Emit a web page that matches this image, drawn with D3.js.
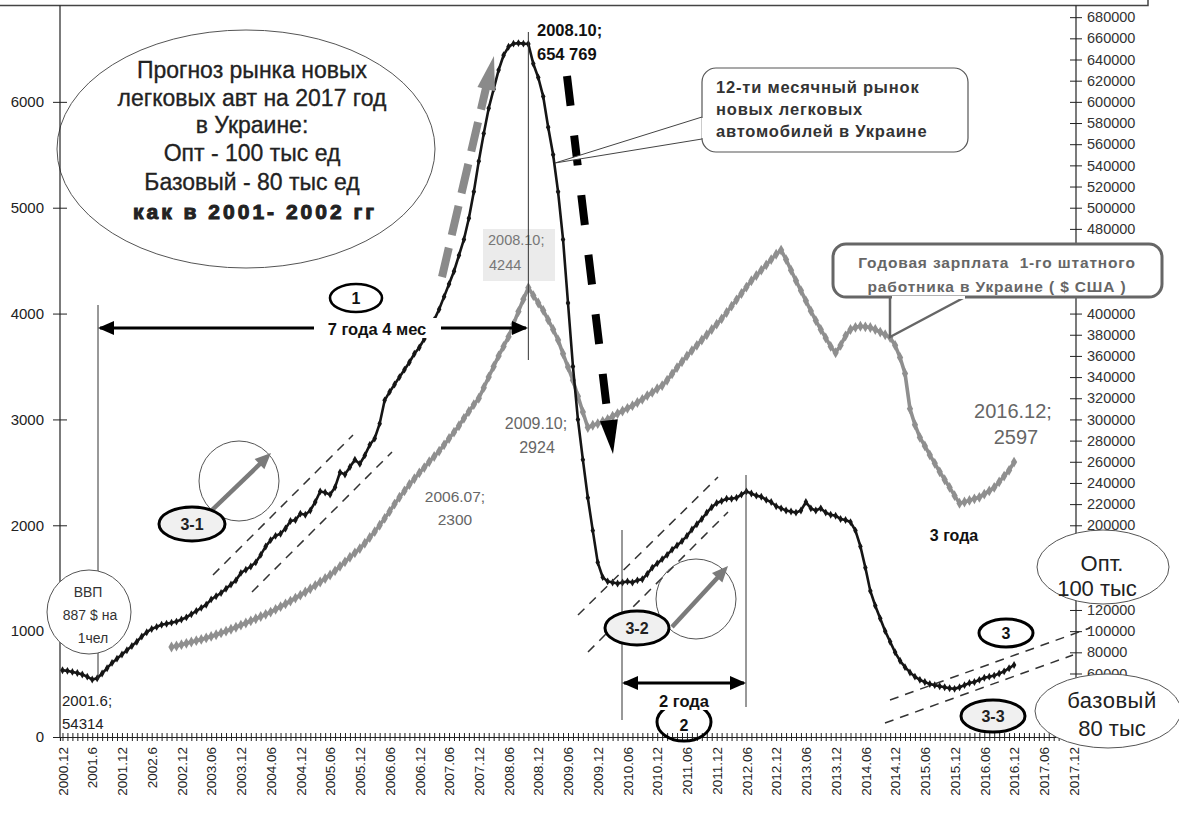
<!DOCTYPE html>
<html><head><meta charset="utf-8">
<script src="https://cdn.jsdelivr.net/npm/d3@7"></script>
<style>
body{margin:0;background:#fff;}
svg{display:block;font-family:"Liberation Sans",Arial,sans-serif;}
</style>
</head><body>
<svg id="c" width="1179" height="817"></svg>
<script>
// ---------------- DATA ----------------
// monthly categories 2000.12 .. 2017.12
const firstYear = 2000, firstMonth = 12, nMonths = 205;
const months = d3.range(nMonths).map(i => {
  const m = firstMonth - 1 + i;
  const y = firstYear + Math.floor(m / 12);
  const mm = (m % 12) + 1;
  return y + "." + (mm < 10 ? "0" + mm : mm);
});
const tickLabels = ["2000.12","2001.6","2001.12","2002.6","2002.12","2003.06","2003.12","2004.06","2004.12",
  "2005.06","2005.12","2006.06","2006.12","2007.06","2007.12","2008.06","2008.12","2009.06","2009.12",
  "2010.06","2010.12","2011.06","2011.12","2012.06","2012.12","2013.06","2013.12","2014.06","2014.12",
  "2015.06","2015.12","2016.06","2016.12","2017.06","2017.12"];
const leftTicks = [0,1000,2000,3000,4000,5000,6000];
// right-axis ticks that are not hidden by the text boxes
const rightTicks = [60000,80000,100000,120000,200000,220000,240000,260000,280000,300000,320000,340000,
  360000,380000,400000,480000,500000,520000,540000,560000,580000,600000,620000,640000,660000,680000];

// 12-month rolling market of new passenger cars (units), 2000.12 .. 2016.12
const carStart = "2000.12";
const carMarket = [
  63000,62500,61500,60500,59000,57000,54314,55500,60000,65000,70000,74000,
  78000,82000,86000,90000,95000,99000,102000,104000,106000,107000,108000,109000,
  111000,113000,116000,119000,122000,125000,130000,133000,136000,140000,144000,148000,
  155000,158000,161000,165000,172000,180000,186000,190000,192000,197000,204000,205000,
  211000,210000,214000,222000,232000,231000,229000,236000,250000,248000,255000,262000,
  258000,266000,276000,282000,296000,318000,326000,333000,340000,347000,354000,362000,
  368000,376000,384000,394000,404000,416000,428000,440000,455000,470000,490000,515000,
  544000,570000,594000,612000,630000,644000,652000,655000,655500,655000,654769,636000,
  623000,605000,576000,550000,515000,470000,410000,350000,300000,262000,226000,195000,
  165000,151000,147000,146000,145000,146000,147000,146000,148000,149000,154000,160000,
  164000,168000,172000,177000,181000,185000,190000,196000,201000,206000,212000,217000,
  221000,223000,225000,225000,226000,229000,232000,230000,228000,227000,224000,222000,
  218000,216000,214000,213000,212000,214000,222000,216000,214000,216000,212000,210000,
  209000,206000,205000,203000,195000,180000,160000,138000,124000,112000,100000,90000,
  80000,72000,66000,61000,57000,54000,52000,50000,49000,48000,47000,46000,
  45500,47000,49000,51000,52000,54000,56000,57000,58000,60000,62000,65000,
  68000
];

// Annual salary of one full-time employee in Ukraine (USD), 2002.10 .. 2016.12
const salaryStart = "2002.10";
const salary = [
  850,860,872,885,897,910,922,936,950,966,983,1000,1018,1037,
  1057,1077,1097,1117,1138,1159,1180,1205,1231,1257,1284,1312,
  1340,1370,1400,1432,1464,1497,1530,1570,1612,1655,1698,1740,
  1780,1830,1885,1940,2000,2065,2130,2200,2265,2325,2385,2440,
  2495,2545,2600,2650,2700,2760,2820,2880,2940,3010,3075,3140,
  3200,3300,3400,3500,3600,3690,3780,3900,4020,4135,4244,4170,
  4100,4030,3940,3850,3750,3620,3495,3370,3220,3070,2924,2945,
  2960,2980,3000,3030,3055,3080,3105,3130,3160,3190,3225,3255,
  3290,3320,3370,3430,3490,3545,3600,3650,3700,3750,3800,3850,
  3900,3950,4010,4070,4130,4190,4250,4310,4360,4410,4460,4510,
  4560,4600,4510,4410,4310,4217,4120,4025,3934,3850,3770,3690,
  3630,3700,3790,3850,3870,3880,3875,3868,3850,3825,3800,3774,
  3700,3585,3434,3100,2950,2830,2750,2665,2585,2505,2430,2358,
  2280,2208,2220,2235,2250,2264,2295,2325,2358,2410,2465,2519,
  2597
];

// ---------------- SCALES ----------------
const svg = d3.select("#c");
const x = d3.scalePoint().domain(months).range([60, 1076]).padding(0.5);
const yL = d3.scaleLinear().domain([0, 7000]).range([737, -4]);
const yR = d3.scaleLinear().domain([0, 700000]).range([737, -4]);
const FONT = "'Liberation Sans', Arial, sans-serif";

const carData = carMarket.map((v, i) => ({m: months[months.indexOf(carStart) + i], v}));
const salData = salary.map((v, i) => ({m: months[months.indexOf(salaryStart) + i], v}));

// top frame (cropped text box)
svg.append("path").attr("d", "M0,5.5H1148V-2").attr("fill", "none").attr("stroke", "#444").attr("stroke-width", 1.5);

// big forecast ellipse (behind axes)
const big = svg.append("g");
big.append("ellipse").attr("cx", 246).attr("cy", 149).attr("rx", 189).attr("ry", 119)
  .attr("fill", "#fff").attr("stroke", "#555").attr("stroke-width", 1);
const bigLines = ["Прогноз рынка новых", "легковых авт на 2017 год", "в Украине:", "Опт - 100 тыс ед", "Базовый - 80 тыс ед"];
const bigY = [78, 106, 133, 161, 190];
bigLines.forEach((t, i) => big.append("text").attr("x", 252).attr("y", bigY[i]).attr("text-anchor", "middle")
  .attr("font-size", 23).attr("fill", "#222").attr("stroke", "#222").attr("stroke-width", 0.3).text(t));
big.append("text").attr("x", 255).attr("y", 219).attr("text-anchor", "middle").attr("font-size", 21)
  .attr("font-weight", "bold").attr("letter-spacing", 3).attr("fill", "#222").attr("stroke", "#222")
  .attr("stroke-width", 1).text("как в 2001- 2002 гг");

// ---------------- AXES ----------------
const gx = svg.append("g").attr("transform", "translate(0,737)")
  .call(d3.axisBottom(x).tickValues(months).tickSizeOuter(0).tickSize(4).tickFormat(""));
gx.selectAll(".tick line").attr("y1", -4).attr("y2", 4).attr("stroke", "#222").attr("stroke-width", 1);
gx.select(".domain").attr("stroke", "#222").attr("stroke-width", 1.2);

const labelMonths = tickLabels.map((_, i) => months[i * 6]);
const gxl = svg.append("g").attr("transform", "translate(0,737)")
  .call(d3.axisBottom(x).tickValues(labelMonths).tickSize(0).tickFormat((d, i) => tickLabels[i]));
gxl.select(".domain").remove();
gxl.selectAll("text").attr("transform", "rotate(-90)").attr("x", -10).attr("y", 0).attr("dy", "0.35em")
  .attr("text-anchor", "end").attr("font-size", 13.5).attr("fill", "#222").attr("font-family", FONT);

const gl = svg.append("g").attr("transform", "translate(60,0)")
  .call(d3.axisLeft(yL).tickValues(leftTicks).tickFormat(d3.format("d")).tickSize(7).tickSizeOuter(0).tickPadding(9));
gl.selectAll(".tick line").attr("x1", 7).attr("stroke", "#222");
gl.select(".domain").attr("d", "M0,737V5.5").attr("stroke", "#222").attr("stroke-width", 1.2);
gl.selectAll("text").attr("font-size", 15).attr("fill", "#222").attr("font-family", FONT);

const gr = svg.append("g").attr("transform", "translate(1076,0)")
  .call(d3.axisRight(yR).tickValues(rightTicks).tickFormat(d3.format("d")).tickSize(6).tickSizeOuter(0).tickPadding(5));
gr.selectAll(".tick line").attr("x1", -6).attr("stroke", "#222");
gr.select(".domain").attr("d", "M0,737V5.5").attr("stroke", "#222").attr("stroke-width", 1.2);
gr.selectAll("text").attr("font-size", 14.5).attr("fill", "#333").attr("font-family", FONT);

// ---------------- SERIES ----------------
const lineSal = d3.line().x(d => x(d.m)).y(d => yL(d.v));
svg.append("path").datum(salData).attr("d", lineSal).attr("fill", "none").attr("stroke", "#8f8f8f").attr("stroke-width", 3.6);
svg.append("g").selectAll("path").data(salData).join("path")
  .attr("transform", d => `translate(${x(d.m)},${yL(d.v)})`)
  .attr("d", d3.symbol(d3.symbolDiamond, 34)).attr("fill", "#8f8f8f");

const lineCar = d3.line().x(d => x(d.m)).y(d => yR(d.v));
svg.append("path").datum(carData).attr("d", lineCar).attr("fill", "none").attr("stroke", "#151515").attr("stroke-width", 2.6);
svg.append("g").selectAll("path").data(carData).join("path")
  .attr("transform", d => `translate(${x(d.m)},${yR(d.v)})`)
  .attr("d", d3.symbol(d3.symbolDiamond, 18)).attr("fill", "#151515");

// ---------------- ANNOTATIONS ----------------
const A = svg.append("g");
function head(g, tip, from, len, hw, color) {
  const dx = tip[0] - from[0], dy = tip[1] - from[1], L = Math.hypot(dx, dy);
  const ux = dx / L, uy = dy / L, bx = tip[0] - ux * len, by = tip[1] - uy * len;
  g.append("path").attr("d", `M${tip[0]},${tip[1]}L${bx - uy * hw},${by + ux * hw}L${bx + uy * hw},${by - ux * hw}Z`).attr("fill", color);
}
function line(g, x1, y1, x2, y2, color, w, dash) {
  const l = g.append("line").attr("x1", x1).attr("y1", y1).attr("x2", x2).attr("y2", y2)
    .attr("stroke", color).attr("stroke-width", w);
  if (dash) l.attr("stroke-dasharray", dash);
  return l;
}
function ell(g, cx, cy, rx, ry, fill, stroke, w) {
  return g.append("ellipse").attr("cx", cx).attr("cy", cy).attr("rx", rx).attr("ry", ry)
    .attr("fill", fill).attr("stroke", stroke).attr("stroke-width", w);
}
function txt(g, x0, y0, t, size, opts = {}) {
  const e = g.append("text").attr("x", x0).attr("y", y0).attr("font-size", size)
    .attr("text-anchor", opts.anchor || "middle").attr("fill", opts.fill || "#222")
    .attr("font-weight", opts.bold ? "bold" : "normal").style("white-space", "pre").text(t);
  if (opts.ls) e.attr("letter-spacing", opts.ls);
  return e;
}

// peak vertical line (2008.10)
const xPeak = x("2008.10");
line(A, xPeak, 32, xPeak, 360, "#333", 1);
// 2001.6 vertical line
line(A, 98, 305, 98, 680, "#333", 1);

// gray light box label at salary peak
A.append("rect").attr("x", 483).attr("y", 229).attr("width", 72).attr("height", 52).attr("fill", "#ebebeb");
txt(A, 488, 245, "2008.10;", 14.5, {anchor: "start", fill: "#777"});
txt(A, 489, 270, "4244", 14.5, {anchor: "start", fill: "#777"});
line(A, xPeak, 229, xPeak, 281, "#333", 1);

// car peak label
txt(A, 537, 36, "2008.10;", 16.5, {anchor: "start", bold: true, fill: "#111"});
txt(A, 537, 60, "654 769", 16.5, {anchor: "start", bold: true, fill: "#111"});

// gray dashed arrow (up)
line(A, 442, 277, 486, 88, "#8a8a8a", 8, "30,13");
head(A, [494, 56], [442, 277], 34, 9, "#8a8a8a");
// black dashed arrow (down)
line(A, 567, 76, 608, 418, "#000", 8, "30,30");
head(A, [613, 454], [567, 76], 34, 9, "#000");

// callout: 12-month market
A.append("path").attr("d", "M702,117L555,163L702,139").attr("fill", "#fff").attr("stroke", "#444").attr("stroke-width", 1);
A.append("rect").attr("x", 702).attr("y", 68).attr("width", 266).attr("height", 84).attr("rx", 14)
  .attr("fill", "#fff").attr("stroke", "#555").attr("stroke-width", 1.2);
A.append("path").attr("d", "M702.5,118L702.5,138").attr("stroke", "#fff").attr("stroke-width", 2);
txt(A, 716, 93, "12-ти месячный рынок", 16.5, {anchor: "start", bold: true, fill: "#333", ls: 0.8});
txt(A, 716, 115, "новых легковых", 16.5, {anchor: "start", bold: true, fill: "#333", ls: 0.8});
txt(A, 716, 137, "автомобилей в Украине", 16.5, {anchor: "start", bold: true, fill: "#333", ls: 0.8});

// callout: annual salary
A.append("path").attr("d", "M890,296L890,337L967,296").attr("fill", "#fff").attr("stroke", "#666").attr("stroke-width", 2.5);
A.append("rect").attr("x", 833).attr("y", 244).attr("width", 329).attr("height", 53).attr("rx", 13)
  .attr("fill", "#fff").attr("stroke", "#666").attr("stroke-width", 3);
A.append("path").attr("d", "M892,297.5H965").attr("stroke", "#fff").attr("stroke-width", 3);
txt(A, 997, 268, "Годовая зарплата  1-го штатного", 15.5, {bold: true, fill: "#666", ls: 0.85});
txt(A, 997, 292, "работника в Украине ( $ США )", 15.5, {bold: true, fill: "#666", ls: 0.85});

// salary labels
txt(A, 536, 429, "2009.10;", 16, {fill: "#666"});
txt(A, 537, 453, "2924", 16, {fill: "#666"});
txt(A, 455, 502, "2006.07;", 15.5, {fill: "#666"});
txt(A, 455, 525, "2300", 15.5, {fill: "#666"});
txt(A, 1013, 418, "2016.12;", 20, {fill: "#666"});
txt(A, 1016, 444, "2597", 20, {fill: "#666"});

// period 1 arrow
line(A, 100, 328, 526, 328, "#000", 3);
head(A, [98, 328], [200, 328], 16, 7, "#000");
head(A, [528, 328], [400, 328], 16, 7, "#000");
A.append("rect").attr("x", 314).attr("y", 318).attr("width", 127).attr("height", 20).attr("fill", "#fff");
txt(A, 377, 335, "7 года 4 мес", 16.5, {bold: true, fill: "#111"});
ell(A, 356, 298, 26, 14, "#fff", "#000", 2.6);
txt(A, 356, 304, "1", 16, {bold: true, fill: "#111"});

// ВВП ellipse
ell(A, 89, 612, 42, 42, "#fff", "#555", 1);
txt(A, 88, 597, "ВВП", 14, {fill: "#333"});
txt(A, 90, 620, "887 $ на", 14, {fill: "#333"});
txt(A, 93, 643, "1чел", 14, {fill: "#333"});
txt(A, 62, 706, "2001.6;", 15, {anchor: "start", fill: "#222"});
txt(A, 62, 729, "54314", 15, {anchor: "start", fill: "#222"});

// 3-1 trend
line(A, 213, 575, 353, 435, "#333", 1.5, "9,7");
line(A, 252, 592, 392, 452, "#333", 1.5, "9,7");
A.append("circle").attr("cx", 239).attr("cy", 481).attr("r", 40).attr("fill", "none").attr("stroke", "#555").attr("stroke-width", 1);
line(A, 212, 510, 262, 462, "#7a7a7a", 4.5);
head(A, [271, 453], [212, 510], 16, 7, "#7a7a7a");
ell(A, 192, 524, 33, 17, "#f0f0f0", "#000", 3);
txt(A, 192, 530, "3-1", 16, {bold: true, fill: "#222"});

// 3-2 trend
line(A, 578, 615, 718, 477, "#333", 1.5, "9,7");
line(A, 588, 652, 728, 512, "#333", 1.5, "9,7");
line(A, 622, 530, 622, 720, "#333", 1);
line(A, 746, 475, 746, 707, "#333", 1);
A.append("circle").attr("cx", 696).attr("cy", 599).attr("r", 40).attr("fill", "none").attr("stroke", "#555").attr("stroke-width", 1);
line(A, 672, 627, 720, 575, "#7a7a7a", 4.5);
head(A, [728, 566], [672, 627], 16, 7, "#7a7a7a");
ell(A, 637, 628, 32, 17, "#f0f0f0", "#000", 3);
txt(A, 637, 634, "3-2", 16, {bold: true, fill: "#222"});

// period 2 arrow
line(A, 624, 683, 744, 683, "#000", 3);
head(A, [622, 683], [700, 683], 16, 7, "#000");
head(A, [746, 683], [650, 683], 16, 7, "#000");
ell(A, 684, 722, 27, 19, "none", "#000", 3);
A.append("rect").attr("x", 648).attr("y", 690).attr("width", 72).attr("height", 20).attr("fill", "#fff");
txt(A, 684, 707, "2 года", 16.5, {bold: true, fill: "#111"});
txt(A, 684, 731, "2", 16, {bold: true, fill: "#111"});

// 3 года
txt(A, 954, 541, "3 года", 16, {bold: true, fill: "#111"});

// 3-3 trend
line(A, 890, 700, 1090, 628, "#333", 1.5, "9,7");
line(A, 885, 723, 1073, 655, "#333", 1.5, "9,7");
ell(A, 1006, 633, 27, 14, "#fff", "#000", 3);
txt(A, 1006, 639, "3", 16, {bold: true, fill: "#111"});
ell(A, 993, 716, 32, 16, "#f0f0f0", "#000", 3);
txt(A, 993, 722, "3-3", 16, {bold: true, fill: "#222"});

// forecast ellipses
ell(A, 1103, 567, 66, 37, "#fff", "#555", 1);
txt(A, 1102, 571, "Опт.", 22, {fill: "#222"});
txt(A, 1097, 596, "100 тыс", 22, {fill: "#222"});
ell(A, 1108, 711, 73, 37, "#fff", "#555", 1);
txt(A, 1112, 708, "базовый", 22, {fill: "#222", ls: 0.5});
txt(A, 1112, 736, "80 тыс", 22, {fill: "#222"});
</script>
</body></html>
